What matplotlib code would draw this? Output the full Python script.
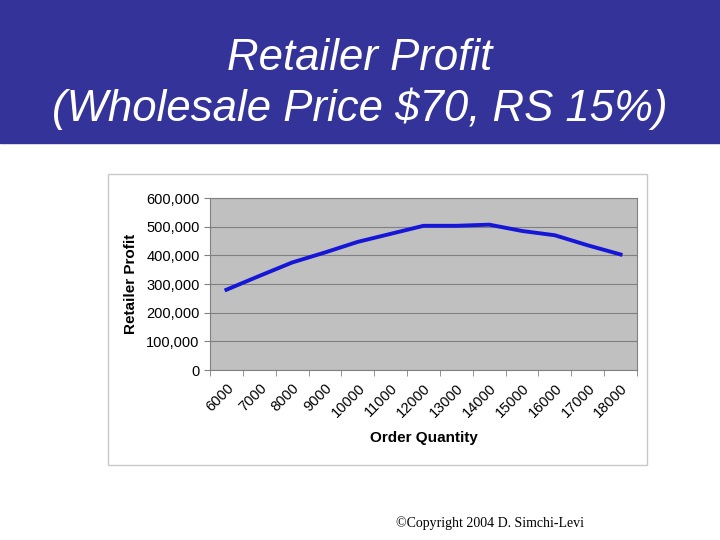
import matplotlib
matplotlib.use("Agg")
import matplotlib.pyplot as plt
from matplotlib.patches import Rectangle
import numpy as np

quantities = ["6000","7000","8000","9000","10000","11000","12000","13000","14000","15000","16000","17000","18000"]
profit = [280000, 328000, 375000, 410000, 447000, 475000, 503000, 503000, 507000, 485000, 470000, 435000, 403000]

fig = plt.figure(figsize=(7.2, 5.4), dpi=100)
fig.patch.set_facecolor("white")
fig.add_artist(Rectangle((0, 1-143/540), 1, 143/540, transform=fig.transFigure, color="#333399", zorder=0))
fig.text(0.5, 1-58/540, "Retailer Profit", ha="center", va="center", color="white", fontsize=31.5, style="italic", family="Liberation Sans")
fig.text(0.5, 1-109/540, "(Wholesale Price $70, RS 15%)", ha="center", va="center", color="white", fontsize=31.5, style="italic", family="Liberation Sans")
fig.add_artist(Rectangle((108/720, 1-465/540), 539/720, 291/540, transform=fig.transFigure, fill=False, edgecolor="#c8c8c8", lw=1))
fig.text(490/720, 1-523/540, "©Copyright 2004 D. Simchi-Levi", ha="center", va="center", fontsize=10, family="Liberation Serif")

ax = fig.add_axes([210/720, 1-370/540, 427/720, 172/540])
ax.set_facecolor("#c0c0c0")
x = np.arange(len(quantities))
ax.plot(x, profit, color="#1616d8", lw=2.8)
ax.set_xlim(-0.5, len(quantities)-0.5)
ax.set_ylim(0, 600000)
ax.set_yticks(range(0, 600001, 100000))
ax.set_yticklabels([f"{v:,}" for v in range(0, 600001, 100000)], fontsize=10.5, family="Liberation Sans")
ax.yaxis.grid(True, color="#808080", lw=0.8)
ax.set_axisbelow(True)
ax.set_xticks(x)
ax.set_xticklabels(quantities, rotation=45, ha="right", rotation_mode="anchor", fontsize=10.5, family="Liberation Sans")
ax.tick_params(axis="x", length=0, pad=8)
ax.set_xticks(np.arange(-0.5, len(quantities)), minor=True)
ax.tick_params(axis="x", which="minor", length=4, color="#808080")
ax.tick_params(axis="y", length=4, color="#808080")
for s in ax.spines.values():
    s.set_color("#808080")
ax.set_xlabel("Order Quantity", fontsize=11, fontweight="bold", family="Liberation Sans", labelpad=8)
ax.set_ylabel("Retailer Profit", fontsize=11, fontweight="bold", family="Liberation Sans", labelpad=6)
fig.savefig("out.png", dpi=100)
